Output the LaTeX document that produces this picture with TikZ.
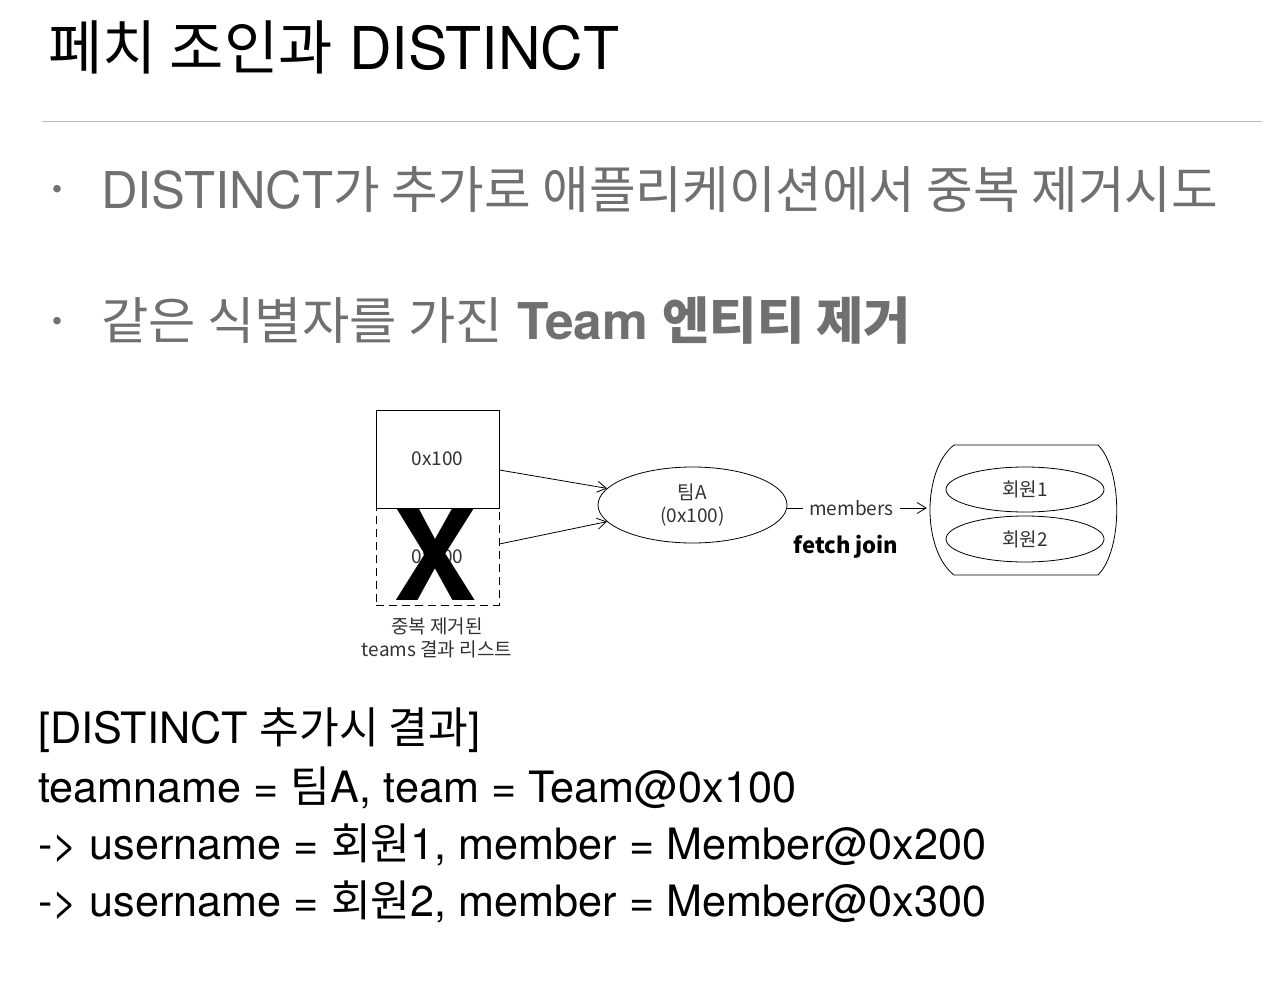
\documentclass[tikz,border=0pt]{standalone}
\usepackage{fontspec}
\setmainfont{TeX Gyre Heros}
\newfontfamily\ko{Noto Sans CJK KR}
\usetikzlibrary{shapes.geometric,arrows.meta}
\definecolor{bulletgray}{RGB}{112,112,112}
\definecolor{diagtext}{RGB}{50,50,50}
\definecolor{rulegray}{RGB}{190,190,190}
\tikzset{
  titletext/.style={anchor=west, inner sep=0pt, font=\fontsize{59}{62}\selectfont},
  bullettext/.style={anchor=west, inner sep=0pt, text=bulletgray, font=\fontsize{50.7}{54}\selectfont},
  bulletdot/.style={inner sep=0pt, text=bulletgray, font=\fontsize{30}{32}\selectfont},
  resulttext/.style={anchor=west, inner sep=0pt, font=\fontsize{43.2}{46}\selectfont},
  diag/.style={text=diagtext, font=\ko\fontsize{19}{23}\selectfont},
  listbox/.style={draw, thick, minimum width=123pt, inner sep=0pt, diag},
  ell/.style={ellipse, draw, thick, inner sep=0pt, diag, align=center},
  arr/.style={thick, -{Straight Barb[length=9pt,width=11pt]}},
}
\begin{document}
\begin{tikzpicture}[x=1pt,y=-1pt]
\useasboundingbox (0,0) rectangle (1262,982);
% title
\node[titletext] (title) at (48,47) {{\ko 페치 조인과} DISTINCT};
\draw[rulegray, line width=1pt] (42,121) -- (1262,121);
% bullets
\node[bulletdot] (b1) at (57,192) {•};
\node[bullettext] (t1) at (101,190) {DISTINCT{\ko 가 추가로 애플리케이션에서 중복 제거시도}};
\node[bulletdot] (b2) at (57,324) {•};
\node[bullettext, xscale=1.015] (t2) at (101,321) {{\ko 같은 식별자를 가진} \textbf{Team {\ko 엔티티 제거}}};
% diagram
\node[listbox, minimum height=98pt] (r1) at (437.5,459) {0x100};
\node[listbox, dashed, dash pattern=on 8pt off 5pt, minimum height=97pt] (r2) at (437.5,556.5) {0x100};
\node[anchor=base, inner sep=0pt, font=\bfseries\fontsize{125}{125}\selectfont] (x) at (435,600) {X};
\node[diag, align=center, inner sep=0pt, font=\ko\fontsize{19}{23}\selectfont] (cap) at (437,638) {중복 제거된\\teams 결과 리스트};
\node[ell, minimum width=189pt, minimum height=76pt] (teamA) at (692.5,505) {팀A\\(0x100)};
\draw[arr] ([yshift=-11pt]r1.east) -- (teamA.169);
\draw[arr] ([yshift=12.5pt]r2.east) -- (teamA.191);
\node[minimum width=187pt, minimum height=130pt, inner sep=0pt] (mbox) at (1023.5,508) {};
\draw[thick] (954,445) -- (1098,445) .. controls (1123,470) and (1123,550) .. (1098,575) -- (954,575) .. controls (922,550) and (922,470) .. (954,445);
\node[ell, minimum width=158pt, minimum height=45pt] (m1) at (1025,489.5) {회원1};
\node[ell, minimum width=158pt, minimum height=46pt] (m2) at (1025,539) {회원2};
\draw[arr, shorten >=3pt] ([yshift=-3pt]teamA.east) -- node[pos=0.45, fill=white, inner xsep=6pt, inner ysep=2pt, diag] (mem) {members} (mbox.west);
\node[inner sep=0pt, font=\ko\bfseries\fontsize{22}{26}\selectfont] (fj) at (846,547) {fetch join};
% result text
\node[resulttext] (l1) at (38,730) {[DISTINCT {\ko 추가시 결과}]};
\node[resulttext] (l2) at (38,788) {teamname = {\ko 팀}A, team = Team@0x100};
\node[resulttext] (l3) at (38,845) {-> username = {\ko 회원}1, member = Member@0x200};
\node[resulttext] (l4) at (38,902) {-> username = {\ko 회원}2, member = Member@0x300};
\end{tikzpicture}
\end{document}
